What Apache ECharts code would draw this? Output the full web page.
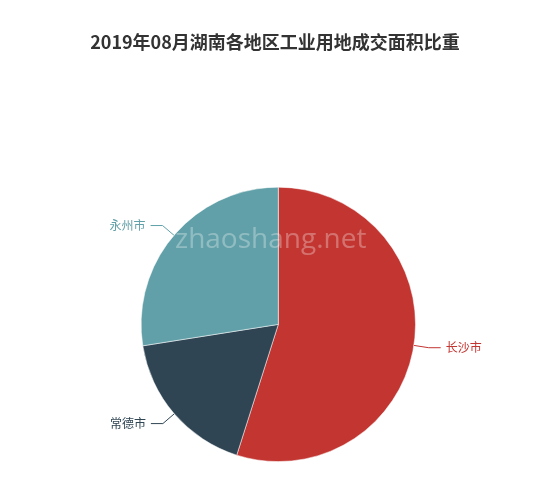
<!DOCTYPE html>
<html><head>
<meta charset="utf-8">
<title>湖南工业用地成交面积比重</title>
<script src="https://cdn.jsdelivr.net/npm/echarts@6/dist/echarts.min.js"></script>
<style>
html,body{margin:0;padding:0;background:#fff;}
#main{width:550px;height:490px;}
</style>
</head>
<body>
<div id="main"></div>
<script type="text/javascript">
// 各地区及成交面积占比（%）
var regions = ['长沙市', '常德市', '永州市'];
var shares = [54.9, 17.6, 27.5];
var colors = ['#c23531', '#2f4554', '#61a0a8'];

var pieData = [];
for (var i = 0; i < regions.length; i++) {
    pieData.push({ name: regions[i], value: shares[i], label: { color: colors[i] } });
}

var myChart = echarts.init(document.getElementById('main'));
var option = {
    color: colors,
    title: {
        text: '2019年08月湖南各地区工业用地成交面积比重',
        left: 'center',
        top: 28,
        textStyle: {
            fontFamily: 'Noto Sans CJK SC',
            fontSize: 18,
            fontWeight: 'bold',
            color: '#333'
        }
    },
    graphic: [{
        type: 'text',
        left: 175,
        top: 226,
        z: 100,
        style: {
            text: 'zhaoshang.net',
            fontFamily: 'Open Sans',
            fontSize: 28,
            fill: 'rgba(255,255,255,0.3)'
        }
    }],
    series: [{
        name: '成交面积比重',
        type: 'pie',
        radius: '56%',
        center: ['50.6%', '66.2%'],
        startAngle: 90,
        data: pieData,
        label: {
            fontFamily: 'Noto Sans CJK SC',
            fontSize: 12
        },
        labelLine: {
            length: 15,
            length2: 12,
            lineStyle: { width: 1 }
        },
        itemStyle: {
            borderColor: '#fff',
            borderWidth: 0.5
        }
    }]
};
myChart.setOption(option);
</script>
</body>
</html>
